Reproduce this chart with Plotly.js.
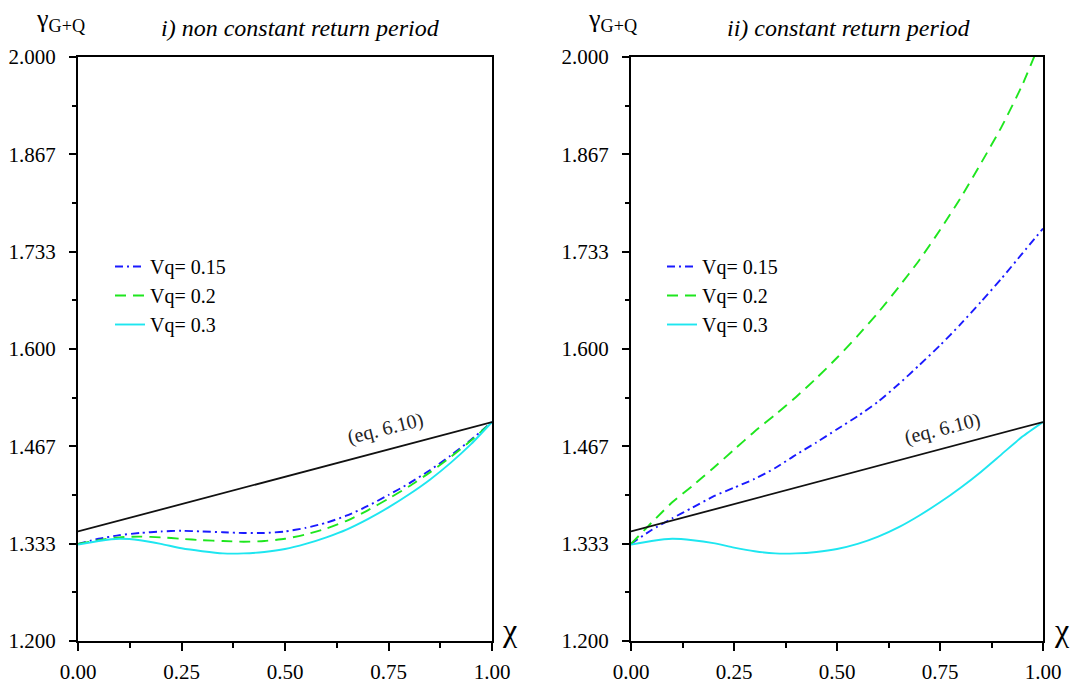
<!DOCTYPE html>
<html>
<head>
<meta charset="utf-8">
<script src="https://cdn.plot.ly/plotly-3.0.1.min.js"></script>
<style>html,body{margin:0;padding:0;background:#fff;}#chart{width:1080px;height:688px;}</style>
</head>
<body>
<div id="chart"></div>
<script>
// chi values (shared)
const chi = [0, 0.05, 0.1, 0.15, 0.2, 0.25, 0.3, 0.35, 0.4, 0.45, 0.5, 0.55, 0.6, 0.65, 0.7, 0.75, 0.8, 0.85, 0.9, 0.95, 1.0];

// i) non constant return period
const left_vq015 = [1.333, 1.340, 1.345, 1.348, 1.350, 1.351, 1.350, 1.349, 1.348, 1.348, 1.350, 1.355, 1.362, 1.372, 1.385, 1.400, 1.416, 1.434, 1.454, 1.476, 1.500];
const left_vq02  = [1.333, 1.338, 1.342, 1.343, 1.342, 1.340, 1.338, 1.337, 1.336, 1.337, 1.340, 1.346, 1.354, 1.365, 1.379, 1.395, 1.412, 1.431, 1.452, 1.475, 1.500];
const left_vq03  = [1.332, 1.337, 1.340, 1.338, 1.333, 1.327, 1.323, 1.320, 1.320, 1.322, 1.326, 1.333, 1.342, 1.353, 1.367, 1.383, 1.401, 1.421, 1.444, 1.470, 1.500];

// ii) constant return period
const right_vq015 = [1.333, 1.352, 1.368, 1.383, 1.398, 1.410, 1.422, 1.437, 1.455, 1.472, 1.490, 1.508, 1.528, 1.552, 1.578, 1.605, 1.634, 1.665, 1.697, 1.731, 1.765];
const right_vq02  = [1.333, 1.362, 1.390, 1.413, 1.437, 1.462, 1.487, 1.510, 1.534, 1.560, 1.588, 1.618, 1.650, 1.685, 1.722, 1.763, 1.807, 1.855, 1.905, 1.962, 2.030];
const right_vq03  = [1.332, 1.337, 1.340, 1.338, 1.334, 1.328, 1.323, 1.320, 1.320, 1.322, 1.326, 1.333, 1.343, 1.356, 1.372, 1.390, 1.410, 1.432, 1.456, 1.480, 1.500];

// eq. 6.10 line
const eqChi = [0, 1];
const eqVal = [1.35, 1.50];

const seriesNames = ['Vq= 0.15', 'Vq= 0.2', 'Vq= 0.3'];
const yTickVals = [1.2, 1.33333, 1.46667, 1.6, 1.73333, 1.86667, 2.0];
const yTickText = ['1.200', '1.333', '1.467', '1.600', '1.733', '1.867', '2.000'];
const xTickVals = [0, 0.25, 0.5, 0.75, 1.0];
const xTickText = ['0.00', '0.25', '0.50', '0.75', '1.00'];
const panelTitles = ['<i>i) non constant return period</i>', '<i>ii) constant return period</i>'];

const serif = '"Liberation Serif", "Times New Roman", Times, "DejaVu Serif", serif';
const colors = ['#1a1aff', '#1ee61e', '#1ee6f0'];
const dashes = ['8px,4px,2px,4px', '11px,7px', 'solid'];

function mk(x, y, i, xa, ya, leg) {
  return {x: x, y: y, type: 'scatter', mode: 'lines', name: seriesNames[i],
    xaxis: xa, yaxis: ya, legend: leg, line: {color: colors[i], width: 1.9, dash: dashes[i], shape: 'spline', smoothing: 0.6},
    hoverinfo: 'skip'};
}

const data = [
  mk(chi, left_vq015, 0, 'x', 'y', 'legend'),
  mk(chi, left_vq02, 1, 'x', 'y', 'legend'),
  mk(chi, left_vq03, 2, 'x', 'y', 'legend'),
  {x: eqChi, y: eqVal, type: 'scatter', mode: 'lines', xaxis: 'x', yaxis: 'y', showlegend: false, line: {color: '#111', width: 1.8}},
  mk(chi, right_vq015, 0, 'x2', 'y2', 'legend2'),
  mk(chi, right_vq02, 1, 'x2', 'y2', 'legend2'),
  mk(chi, right_vq03, 2, 'x2', 'y2', 'legend2'),
  {x: eqChi, y: eqVal, type: 'scatter', mode: 'lines', xaxis: 'x2', yaxis: 'y2', showlegend: false, line: {color: '#111', width: 1.8}}
];

function xax(dom, anchor) {
  return {domain: dom, anchor: anchor, range: [0, 1], showgrid: false, zeroline: false,
    showline: true, linecolor: '#000', linewidth: 2, mirror: true,
    ticks: 'outside', ticklen: 8, tickwidth: 2, tickcolor: '#000', ticklabelstandoff: 3,
    tickmode: 'array', tickvals: xTickVals, ticktext: xTickText,
    minor: {ticks: 'outside', ticklen: 5, tickwidth: 2, tickcolor: '#000', tickmode: 'linear', tick0: 0, dtick: 0.125},
    tickfont: {family: serif, size: 21, color: '#000'}};
}
function yax(dom, anchor) {
  return {domain: dom, anchor: anchor, range: [1.2, 2.0], showgrid: false, zeroline: false,
    showline: true, linecolor: '#000', linewidth: 2, mirror: true,
    ticks: 'outside', ticklen: 7, tickwidth: 2, tickcolor: '#000', ticklabelstandoff: 9,
    tickmode: 'array', tickvals: yTickVals, ticktext: yTickText,
    minor: {ticks: 'outside', ticklen: 4, tickwidth: 2, tickcolor: '#000', tickmode: 'linear', tick0: 1.2, dtick: 0.0666667},
    tickfont: {family: serif, size: 21, color: '#000'}};
}

const yDom = [47/688, 631/688];
const layout = {
  width: 1080, height: 688,
  margin: {l: 0, r: 0, t: 0, b: 0},
  paper_bgcolor: '#fff', plot_bgcolor: '#fff',
  font: {family: serif, color: '#000'},
  xaxis: xax([78/1080, 492/1080], 'y'),
  yaxis: yax(yDom, 'x'),
  xaxis2: xax([631/1080, 1043/1080], 'y2'),
  yaxis2: yax(yDom, 'x2'),
  legend: {x: 110/1080, y: 441/688, xanchor: 'left', yanchor: 'top', bgcolor: 'rgba(0,0,0,0)',
    font: {family: serif, size: 20, color: '#000'}, tracegroupgap: 0},
  legend2: {x: 662/1080, y: 441/688, xanchor: 'left', yanchor: 'top', bgcolor: 'rgba(0,0,0,0)',
    font: {family: serif, size: 20, color: '#000'}, tracegroupgap: 0},
  annotations: [
    {text: panelTitles[0], xref: 'paper', yref: 'paper', x: 300/1080, y: (688-28)/688, xanchor: 'center', yanchor: 'middle', showarrow: false, font: {family: serif, size: 24}},
    {text: panelTitles[1], xref: 'paper', yref: 'paper', x: 848/1080, y: (688-28)/688, xanchor: 'center', yanchor: 'middle', showarrow: false, font: {family: serif, size: 24}},
    {text: 'γ<sub>G+Q</sub>', xref: 'paper', yref: 'paper', x: 34/1080, y: (688-20)/688, xanchor: 'left', yanchor: 'middle', showarrow: false, font: {family: serif, size: 26}},
    {text: 'γ<sub>G+Q</sub>', xref: 'paper', yref: 'paper', x: 586/1080, y: (688-20)/688, xanchor: 'left', yanchor: 'middle', showarrow: false, font: {family: serif, size: 26}},
    {text: 'χ', xref: 'paper', yref: 'paper', x: 510/1080, y: (688-630)/688, xanchor: 'center', yanchor: 'middle', showarrow: false, font: {family: serif, size: 32}},
    {text: 'χ', xref: 'paper', yref: 'paper', x: 1062/1080, y: (688-630)/688, xanchor: 'center', yanchor: 'middle', showarrow: false, font: {family: serif, size: 32}},
    {text: '(eq. 6.10)', xref: 'x', yref: 'y', x: 0.742, y: 1.4905, textangle: -14, showarrow: false, font: {family: serif, size: 20, color: '#222'}},
    {text: '(eq. 6.10)', xref: 'x2', yref: 'y2', x: 0.757, y: 1.4905, textangle: -14, showarrow: false, font: {family: serif, size: 20, color: '#222'}}
  ]
};

Plotly.newPlot('chart', data, layout, {staticPlot: true, displayModeBar: false});
</script>
</body>
</html>
